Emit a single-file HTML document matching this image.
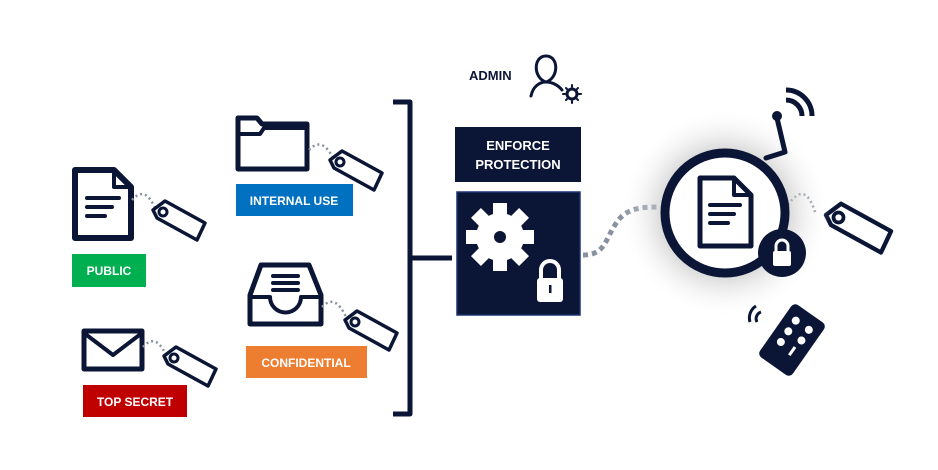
<!DOCTYPE html>
<html><head><meta charset="utf-8"><style>
html,body{margin:0;padding:0;background:#fff;}
svg{display:block;font-family:"Liberation Sans",sans-serif;}
</style></head><body>
<svg width="938" height="470" viewBox="0 0 938 470" xmlns="http://www.w3.org/2000/svg">
<defs>
<radialGradient id="glow" cx="0.5" cy="0.5" r="0.5">
<stop offset="0.55" stop-color="#bbb" stop-opacity="0.7"/>
<stop offset="1" stop-color="#fff" stop-opacity="0"/>
</radialGradient>
<g id="tag">
<path d="M0 0 L12 -9 L52 13 L44 30 L4 8 Z" fill="#fff" stroke="#0b1535" stroke-width="3.5" stroke-linejoin="round"/>
<circle cx="10" cy="2" r="4" fill="none" stroke="#0b1535" stroke-width="3"/>
</g>
</defs>
<g fill="none" stroke="#0b1535" stroke-linecap="round" stroke-linejoin="round">
<!-- doc -->
<path d="M75 170 H114 L131 187 V238 H75 Z" stroke-width="6"/>
<path d="M114 170 V187 H131" stroke-width="4"/>
<path d="M87 198 H119 M87 207 H112 M87 216 H105" stroke-width="4"/>
<!-- envelope -->
<rect x="84" y="331" width="58" height="38" stroke-width="5"/>
<path d="M84 333 L113 355 L142 333" stroke-width="4"/>
<!-- folder -->
<path d="M238 118 H257 L262 124 H307 V169 H238 Z" stroke-width="5"/>
<path d="M238 134 H260 L264 128 H307" stroke-width="4"/>
<!-- inbox -->
<path d="M261 265 H309 L321 295 V324 H250 V295 Z" stroke-width="5"/>
<path d="M250 297 H270 A15 15 0 0 0 301 297 H321" stroke-width="4"/>
<path d="M273 276 H298 M273 283 H298 M273 290 H298" stroke-width="4"/>
<!-- bracket -->
<path d="M393 102 H410 V414 H393" stroke-width="5" stroke-linecap="butt"/>
<path d="M410 258 H452" stroke-width="5" stroke-linecap="butt"/>
</g>
<!-- dotted strings -->
<g fill="none" stroke="#8891a0" stroke-width="2.5" stroke-dasharray="2 3">
<path d="M132 200 Q145 185 155 208"/>
<path d="M143 347 Q155 333 165 353"/>
<path d="M309 150 Q322 136 333 158"/>
<path d="M322 307 Q335 293 346 317"/>
<path d="M788 205 Q805 180 815 212"/>
</g>
<use href="#tag" transform="translate(153 210)"/>
<use href="#tag" transform="translate(164 356)"/>
<use href="#tag" transform="translate(330 160)"/>
<use href="#tag" transform="translate(345 320)"/>
<use href="#tag" transform="translate(826 215) scale(1.25)"/>
<!-- labels -->
<rect x="72" y="254" width="74" height="33" fill="#00b050"/>
<text x="109" y="275" fill="#fff" font-size="12" font-weight="bold" text-anchor="middle">PUBLIC</text>
<rect x="83" y="385" width="104" height="32" fill="#c00000"/>
<text x="135" y="406" fill="#fff" font-size="12" font-weight="bold" text-anchor="middle">TOP SECRET</text>
<rect x="236" y="184" width="117" height="32" fill="#0070c0"/>
<text x="294" y="205" fill="#fff" font-size="12" font-weight="bold" text-anchor="middle">INTERNAL USE</text>
<rect x="246" y="346" width="121" height="32" fill="#ed7d31"/>
<text x="306" y="367" fill="#fff" font-size="12" font-weight="bold" text-anchor="middle">CONFIDENTIAL</text>
<!-- admin -->
<text x="469" y="80" fill="#0b1535" font-size="13" font-weight="bold">ADMIN</text>
<g fill="none" stroke="#0b1535" stroke-width="3" stroke-linecap="round">
<path d="M546 56 C533 56 533 78 546 82 C559 78 559 56 546 56 Z"/>
<path d="M531 96 C533 86 540 82 546 82 C552 82 558 85 562 90"/>
<circle cx="572" cy="94" r="5"/>
<path d="M572 85 V87 M572 101 V103 M563 94 H565 M579 94 H581 M566 88 L567 89 M577 99 L578 100 M566 100 L567 99 M577 89 L578 88" stroke-width="2"/>
</g>
<!-- enforce -->
<rect x="455" y="127" width="126" height="55" fill="#0b1535"/>
<text x="518" y="150" fill="#fff" font-size="13" font-weight="bold" text-anchor="middle">ENFORCE</text>
<text x="518" y="169" fill="#fff" font-size="13" font-weight="bold" text-anchor="middle">PROTECTION</text>
<rect x="457" y="192" width="123" height="123" fill="#0b1535" stroke="#1d3470" stroke-width="1.5"/>
<g transform="translate(500 237)" fill="#fff">
<circle r="24"/>
<g id="teeth"><rect x="-7" y="-34" width="14" height="68"/><rect x="-34" y="-7" width="68" height="14"/></g>
<use href="#teeth" transform="rotate(45)"/>
<circle r="6" fill="#0b1535"/>
</g>
<g fill="#fff">
<path d="M541 279 V270 A9 9 0 0 1 559 270 V279" fill="none" stroke="#fff" stroke-width="4"/>
<rect x="537" y="278" width="26" height="24" rx="3"/>
<rect x="549" y="285" width="2.5" height="8" fill="#0b1535"/>
</g>
<!-- dashed connector -->
<path d="M583 255 C605 255 605 240 615 225 C625 208 640 207 660 207" fill="none" stroke="#8891a0" stroke-width="5" stroke-dasharray="5 4"/>
<!-- device circle -->
<circle cx="725" cy="213" r="105" fill="url(#glow)"/>
<circle cx="725" cy="213" r="60" fill="#fff" stroke="#0b1535" stroke-width="9"/>
<g fill="none" stroke="#0b1535" stroke-linecap="round" stroke-linejoin="round">
<path d="M700 178 H734 L751 195 V246 H700 Z" stroke-width="5"/>
<path d="M734 178 V195 H751" stroke-width="4"/>
<path d="M710 205 H740 M710 214 H734 M710 223 H728" stroke-width="4"/>
<path d="M766 158 L785 152 L777 118" stroke-width="5"/>
<path d="M786 100 A16 16 0 0 1 802 116 M786 90 A26 26 0 0 1 812 116" stroke-width="5" stroke-linecap="butt"/>
</g>
<circle cx="777" cy="116" r="5" fill="#0b1535"/>
<circle cx="782" cy="253" r="24" fill="#0b1535"/>
<path d="M776 252 V246 A6 6 0 0 1 788 246 V252" fill="none" stroke="#fff" stroke-width="3"/>
<rect x="773" y="251" width="18" height="15" rx="2" fill="#fff"/>
<!-- remote -->
<g transform="translate(792 340) rotate(35)">
<rect x="-20" y="-32" width="40" height="64" rx="5" fill="#0b1535"/>
<circle cx="-8" cy="-18" r="4" fill="#fff"/><circle cx="8" cy="-18" r="4" fill="#fff"/>
<circle cx="-8" cy="-5" r="4" fill="#fff"/><circle cx="8" cy="-5" r="4" fill="#fff"/>
<circle cx="-8" cy="8" r="4" fill="#fff"/><rect x="5" y="4" width="3" height="10" fill="#fff"/>
</g>
<path d="M761 312 A7 7 0 0 0 757 322 M756 306 A14 14 0 0 0 750 322" fill="none" stroke="#0b1535" stroke-width="3"/>
</svg>
</body></html>
